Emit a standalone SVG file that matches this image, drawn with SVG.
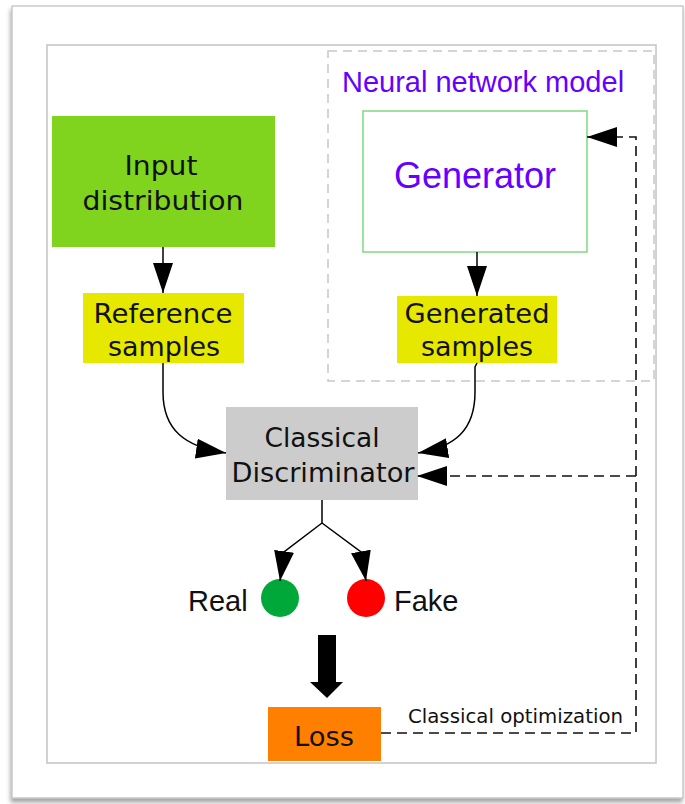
<svg xmlns="http://www.w3.org/2000/svg" width="685" height="804" viewBox="0 0 685 804">
  <defs>
    <filter id="card-shadow" x="-5%" y="-5%" width="110%" height="110%">
      <feDropShadow dx="-1" dy="4" stdDeviation="2.2" flood-color="#000" flood-opacity="0.35"/>
    </filter>
    <marker id="arrow" markerUnits="userSpaceOnUse" viewBox="0 0 30 20" refX="30" refY="10" markerWidth="30" markerHeight="20" orient="auto">
      <path d="M0,0 L30,10 L0,20 z" fill="#000"/>
    </marker>
  </defs>
  <style>
    .node-label { font-family: "DejaVu Sans", "Liberation Sans", sans-serif; font-size: 27px; fill: #111; text-anchor: middle; }
    .arial { font-family: "Liberation Sans", Arial, sans-serif; }
    .edge { fill: none; stroke: #000; stroke-width: 1.5; }
    .feedback { fill: none; stroke: #111; stroke-width: 1.6; stroke-dasharray: 10 6; }
  </style>

  <!-- page card and inner frame -->
  <rect x="0" y="0" width="685" height="804" fill="#fff"/>
  <rect x="12" y="6" width="671" height="792" fill="#fff" stroke="#bdbdbd" stroke-width="1.2" filter="url(#card-shadow)"/>
  <rect x="47" y="45" width="609" height="718" fill="#fff" stroke="#c4c4c4" stroke-width="1.5"/>

  <!-- neural network cluster -->
  <g id="neural-network-model">
    <rect x="328" y="51" width="326" height="330" fill="none" stroke="#c8c8c8" stroke-width="1.5" stroke-dasharray="9 6"/>
    <text class="arial" x="342" y="92" font-size="29" fill="#6600ff">Neural network model</text>
  </g>

  <g id="input-distribution">
    <rect x="52" y="116" width="223" height="131" fill="#80d41e"/>
    <text class="node-label" x="161" y="175" textLength="73" lengthAdjust="spacingAndGlyphs">Input</text>
    <text class="node-label" x="163" y="210" textLength="161" lengthAdjust="spacingAndGlyphs">distribution</text>
  </g>

  <g id="reference-samples">
    <rect x="83" y="293" width="161" height="70" fill="#e6e800"/>
    <text class="node-label" x="163" y="323" textLength="139" lengthAdjust="spacingAndGlyphs">Reference</text>
    <text class="node-label" x="164" y="356" textLength="112" lengthAdjust="spacingAndGlyphs">samples</text>
  </g>

  <g id="generator">
    <rect x="363" y="111" width="224" height="141" fill="#fff" stroke="#80d880" stroke-width="1.5"/>
    <text class="arial" x="475" y="188" font-size="36" fill="#6600ff" text-anchor="middle">Generator</text>
  </g>

  <g id="generated-samples">
    <rect x="397" y="296" width="160" height="67" fill="#e6e800"/>
    <text class="node-label" x="477" y="323" textLength="145" lengthAdjust="spacingAndGlyphs">Generated</text>
    <text class="node-label" x="477" y="356" textLength="112" lengthAdjust="spacingAndGlyphs">samples</text>
  </g>

  <g id="classical-discriminator">
    <rect x="226" y="407" width="192" height="93" fill="#cccccc"/>
    <text class="node-label" x="322" y="447" textLength="115" lengthAdjust="spacingAndGlyphs">Classical</text>
    <text class="node-label" x="323" y="482" textLength="183" lengthAdjust="spacingAndGlyphs">Discriminator</text>
  </g>

  <g id="real">
    <circle cx="280" cy="598" r="19" fill="#00a83a"/>
    <text class="arial" x="188" y="611" font-size="29" fill="#111">Real</text>
  </g>

  <g id="fake">
    <circle cx="366" cy="598" r="19" fill="#ff0000"/>
    <text class="arial" x="394" y="611" font-size="29" fill="#111">Fake</text>
  </g>

  <g id="loss">
    <rect x="268" y="707" width="113" height="54" fill="#ff8000"/>
    <text class="node-label" x="324" y="746" textLength="60" lengthAdjust="spacingAndGlyphs">Loss</text>
  </g>

  <!-- connectors -->
  <g id="connectors">
    <path class="edge" d="M163,247 V293" marker-end="url(#arrow)"/>
    <path class="edge" d="M477,252 V296" marker-end="url(#arrow)"/>
    <path class="edge" d="M163,363 V392 C163,430 185,447 226,453" marker-end="url(#arrow)"/>
    <path class="edge" d="M477,363 L475,367 V392 C475,430 455,447 418,453" marker-end="url(#arrow)"/>
    <path class="edge" d="M322,500 V523 L284,552 L280,581" marker-end="url(#arrow)"/>
    <path class="edge" d="M322,523 L361,552 L366,581" marker-end="url(#arrow)"/>
    <polygon points="318,635 336,635 336,682 343,682 327,698 310,682 318,682" fill="#000"/>
    <path class="feedback" d="M381,733 H636 V137 H587" marker-end="url(#arrow)"/>
    <path class="feedback" d="M636,476 H417" marker-end="url(#arrow)"/>
    <text x="408" y="723" font-family="DejaVu Sans, sans-serif" font-size="20" fill="#111" textLength="215" lengthAdjust="spacingAndGlyphs">Classical optimization</text>
  </g>
</svg>
